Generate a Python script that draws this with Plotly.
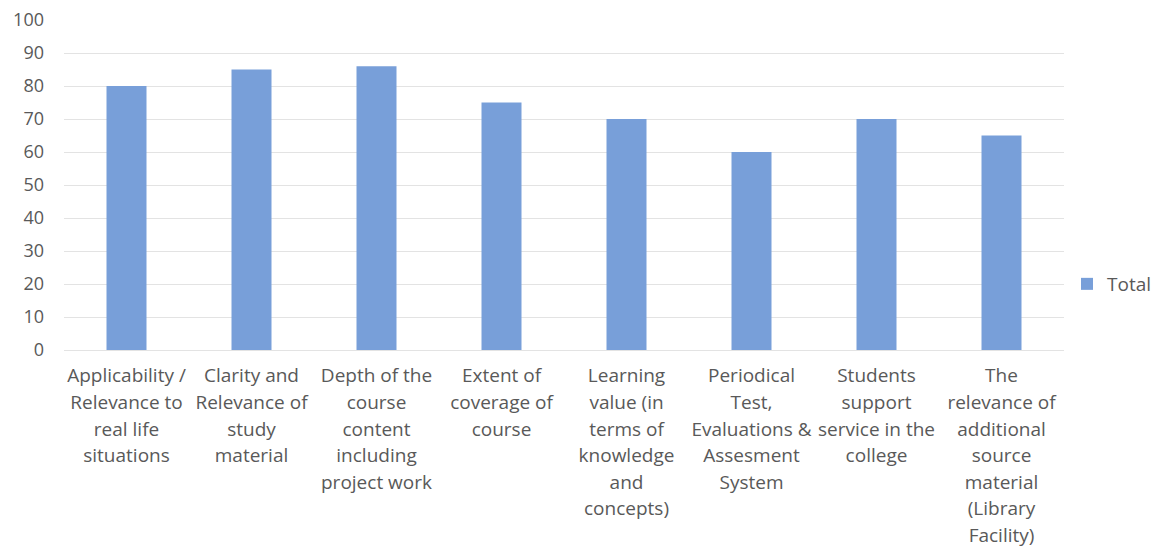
import plotly.graph_objects as go

# categories and values
categories = [
    "Applicability /<br>Relevance to<br>real life<br>situations",
    "Clarity and<br>Relevance of<br>study<br>material",
    "Depth of the<br>course<br>content<br>including<br>project work",
    "Extent of<br>coverage of<br>course",
    "Learning<br>value (in<br>terms of<br>knowledge<br>and<br>concepts)",
    "Periodical<br>Test,<br>Evaluations &<br>Assesment<br>System",
    "Students<br>support<br>service in the<br>college",
    "The<br>relevance of<br>additional<br>source<br>material<br>(Library<br>Facility)",
]
totals = [80, 85, 86, 75, 70, 60, 70, 65]
y_ticks = list(range(0, 101, 10))

text_color = "#595959"


def small_lines(label):
    # keep the big tick font for line spacing, draw the words smaller
    return "<br>".join(
        f'<span style="font-size:19px">{part}</span>' for part in label.split("<br>")
    )


fig = go.Figure()

fig.add_trace(go.Bar(
    x=list(range(len(categories))),
    y=totals,
    name="Total",
    marker=dict(color="#789fd9", line=dict(width=0)),
))

# page body adds 8px around the figure, so size it to fit the window
fig.update_layout(
    width=1162,
    height=543,
    margin=dict(l=56, r=106, t=12, b=201),
    paper_bgcolor="white",
    plot_bgcolor="white",
    font=dict(family="'Open Sans', sans-serif", color=text_color, size=18),
    bargap=0.68,
    showlegend=True,
    legend=dict(
        x=1.003, y=0.2, xanchor="left", yanchor="middle",
        font=dict(size=19, color=text_color),
        itemwidth=30,
    ),
)

fig.update_xaxes(
    tickmode="array",
    tickvals=list(range(len(categories))),
    ticktext=[small_lines(c) for c in categories],
    tickfont=dict(size=20.4, color=text_color),
    tickangle=0,
    range=[-0.5, len(categories) - 0.5],
    showgrid=False,
    showline=True,
    linecolor="#e3e3e3",
    ticks="",
    ticklabelstandoff=7,
    ticklabeloverflow="allow",
    automargin=False,
)

fig.update_yaxes(
    range=[0, 100],
    tickvals=y_ticks,
    tickfont=dict(size=18, color=text_color),
    showgrid=True,
    gridcolor="#e3e3e3",
    zeroline=False,
    ticks="",
    ticklabelstandoff=19,
    ticklabeloverflow="allow",
    automargin=False,
)

fig.write_html("out.html")
